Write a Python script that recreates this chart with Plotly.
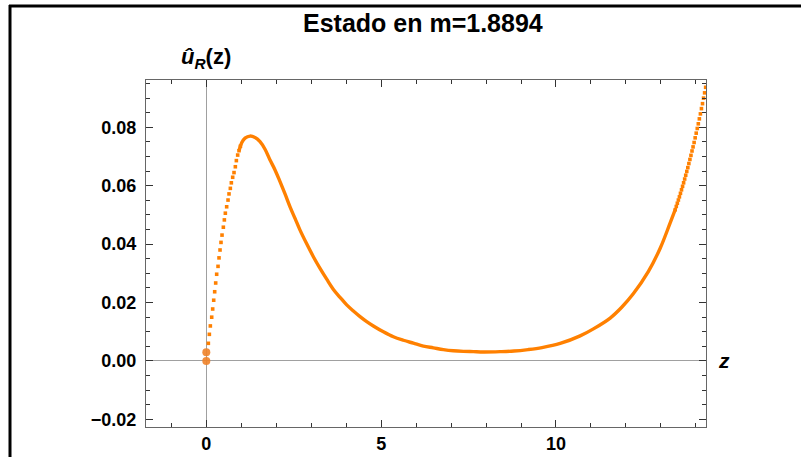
import plotly.graph_objects as go

# --- data ---
# rising (dotted) part near z = 0
z_rise = [0.058, 0.087, 0.115, 0.154, 0.182, 0.211, 0.239, 0.268, 0.296, 0.335,
          0.363, 0.392, 0.420, 0.449, 0.487, 0.516, 0.544, 0.582, 0.621, 0.649,
          0.687, 0.716, 0.754, 0.792, 0.830, 0.859, 0.897, 0.935, 0.975]
u_rise = [0.00605, 0.00913, 0.0120, 0.0150, 0.0178, 0.0208, 0.0237, 0.0267, 0.0297, 0.0324,
          0.0353, 0.0380, 0.0406, 0.0431, 0.0458, 0.0483, 0.0506, 0.0528, 0.0551, 0.0572,
          0.0591, 0.0610, 0.0629, 0.0645, 0.0665, 0.0686, 0.0705, 0.0720, 0.0735]

# dense middle part (dots merge into a solid line)
z_mid = [0.935, 1.012, 1.107, 1.25, 1.393, 1.536, 1.679, 1.822, 1.965,
         2.108, 2.251, 2.394, 2.537, 2.68, 2.871, 3.061, 3.252, 3.443, 3.634,
         3.824, 4.015, 4.206, 4.396, 4.587, 4.777, 5.064, 5.35, 5.636, 5.922,
         6.208, 6.494, 6.78, 7.066, 7.352, 7.639, 7.925, 8.4, 8.8, 9.2,
         9.6, 10.12, 10.69, 11.07, 11.55, 11.88, 12.21, 12.64, 12.98, 13.26, 13.41]
u_mid = [0.0720, 0.0747, 0.0763, 0.0770, 0.0765, 0.0751, 0.0725, 0.0688, 0.0654,
         0.0614, 0.0572, 0.0528, 0.0488, 0.0448, 0.0401, 0.0357, 0.0317, 0.0280, 0.0245,
         0.0218, 0.0192, 0.0171, 0.0152, 0.0135, 0.0120, 0.0100, 0.0083, 0.0071, 0.0061,
         0.0051, 0.0045, 0.0039, 0.0035, 0.0033, 0.0032, 0.0031, 0.0032, 0.0034, 0.0039,
         0.0046, 0.0060, 0.0086, 0.0110, 0.0147, 0.0184, 0.0230, 0.0306, 0.0386, 0.0471, 0.0518]

# steep (dotted) part at the right end
z_end = [13.41, 13.44, 13.47, 13.50, 13.53, 13.56, 13.59, 13.62, 13.65, 13.68,
         13.71, 13.74, 13.77, 13.80, 13.83, 13.86, 13.89, 13.92, 13.95, 13.98,
         14.01, 14.04, 14.07, 14.10, 14.13, 14.16, 14.19, 14.22, 14.25, 14.28]
u_end = [0.0518, 0.0529, 0.0540, 0.0551, 0.0562, 0.0574, 0.0586, 0.0598, 0.0610, 0.0623,
         0.0636, 0.0649, 0.0662, 0.0676, 0.0690, 0.0704, 0.0719, 0.0733, 0.0748, 0.0764,
         0.0780, 0.0796, 0.0812, 0.0829, 0.0846, 0.0864, 0.0881, 0.0900, 0.0918, 0.0937]

# boundary points at z = 0
z_bc = [0.0, 0.0]
u_bc = [0.0, 0.0030]

x_ticks = [0, 5, 10]
y_ticks = [-0.02, 0.0, 0.02, 0.04, 0.06, 0.08]
title_text = "Estado en m=1.8894"

ORANGE = "#FF8000"
FONT = "Liberation Sans"

fig = go.Figure()
fig.add_trace(go.Scatter(x=z_mid, y=u_mid, mode="lines",
                         line=dict(color=ORANGE, width=3.4, shape="spline", smoothing=1.0),
                         hoverinfo="skip"))
fig.add_trace(go.Scatter(x=z_rise, y=u_rise, mode="markers",
                         marker=dict(color=ORANGE, size=3.6, symbol="square"), hoverinfo="skip"))
fig.add_trace(go.Scatter(x=z_end, y=u_end, mode="markers",
                         marker=dict(color=ORANGE, size=3.6, symbol="square"), hoverinfo="skip"))
fig.add_trace(go.Scatter(x=z_bc, y=u_bc, mode="markers",
                         marker=dict(color="#F08228", size=8, opacity=0.9), hoverinfo="skip"))

tickfont = dict(family=FONT, size=18, color="black", weight="bold")
common = dict(showline=True, linecolor="#666", linewidth=1.2, mirror="ticks",
              ticks="inside", tickcolor="#333", tickwidth=1, automargin=False,
              showgrid=False, zeroline=True, zerolinecolor="#a0a0a0", zerolinewidth=1.2,
              tickfont=tickfont)

fig.update_layout(
    width=801, height=457,
    margin=dict(l=146, r=95, t=80, b=30),
    paper_bgcolor="white", plot_bgcolor="white",
    showlegend=False,
    xaxis=dict(range=[-1.725, 14.29], tickvals=x_ticks, ticklen=7,
               minor=dict(dtick=1, ticks="inside", ticklen=4, tickcolor="#333"),
               ticklabelstandoff=0, **common),
    yaxis=dict(range=[-0.0226, 0.0962], tickvals=y_ticks, tickformat=".2f", ticklen=7,
               minor=dict(dtick=0.005, tick0=0, ticks="inside", ticklen=4, tickcolor="#333"),
               ticklabelstandoff=5, **common),
)

fig.add_annotation(text="<b>" + title_text + "</b>", xref="paper", yref="paper",
                   x=0.495, y=(427 - 23) / 347, showarrow=False,
                   font=dict(family=FONT, size=25, color="black"),
                   xanchor="center", yanchor="middle")
fig.add_annotation(text="<b><i>û</i><sub><i>R</i></sub>(z)</b>", xref="x", yref="paper",
                   x=0, y=(427 - 58) / 347, showarrow=False,
                   font=dict(family=FONT, size=22, color="black"),
                   xanchor="center", yanchor="middle")
fig.add_annotation(text="<b><i>z</i></b>", xref="paper", yref="y",
                   x=(724 - 146) / 560, y=0, showarrow=False,
                   font=dict(family=FONT, size=21, color="black"),
                   xanchor="center", yanchor="middle")

# black border lines of the screenshot frame (top and left)
px = lambda v: (v - 146) / 560
py = lambda v: (427 - v) / 347
fig.add_shape(type="line", xref="paper", yref="paper", x0=px(9), x1=px(805), y0=py(6), y1=py(6),
              line=dict(color="black", width=3))
fig.add_shape(type="line", xref="paper", yref="paper", x0=px(10), x1=px(10), y0=py(5), y1=py(460),
              line=dict(color="black", width=3))

fig.write_html("out.html", config={"displayModeBar": False},
               post_script="document.body.style.margin='0px';")
